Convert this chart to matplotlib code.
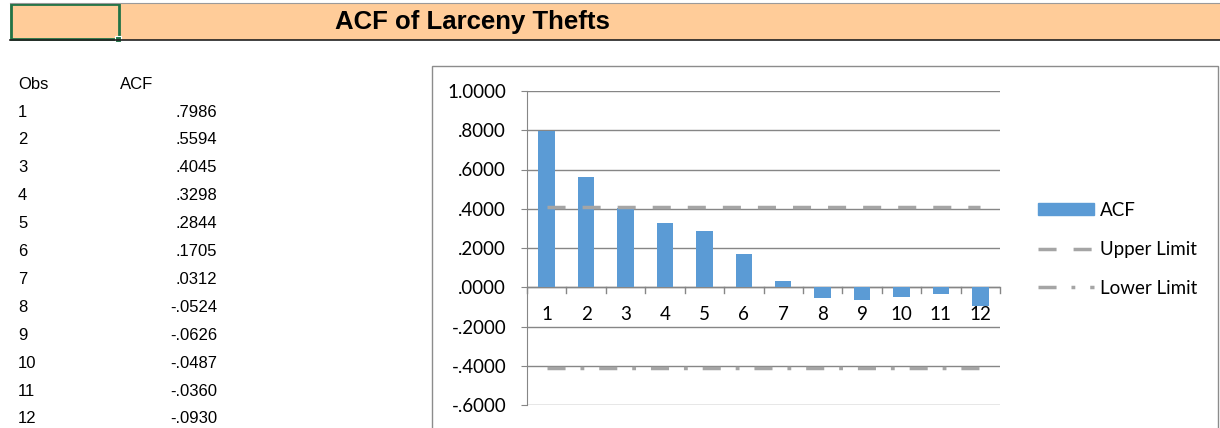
import matplotlib
matplotlib.use('Agg')
import matplotlib.pyplot as plt
from matplotlib.patches import Rectangle
from matplotlib.lines import Line2D
import numpy as np

# data
lags = list(range(1, 13))
acf = [0.7986, 0.5594, 0.4045, 0.3298, 0.2844, 0.1705,
       0.0312, -0.0524, -0.0626, -0.0487, -0.0360, -0.0930]
upper_limit = [0.41] * 12
lower_limit = [-0.41] * 12
yticks = [-0.6, -0.4, -0.2, 0.0, 0.2, 0.4, 0.6, 0.8, 1.0]

W, H = 1220, 428
BAR = '#5B9BD5'
LIM = '#A5A5A5'
GRID = '#868686'
CFONT = 'Lato'
CSIZE = 13.5
UP_DASH = (5.2, 4.9)
LO_DASH = (5.2, 4.3, 1.1, 4.3)

def fmt(v):
    s = '%.4f' % v
    return s.replace('0.', '.', 1) if abs(v) < 1 else s

fig = plt.figure(figsize=(W / 100, H / 100), dpi=100)
fig.patch.set_facecolor('white')

# background sheet in pixel coords (y down)
bg = fig.add_axes([0, 0, 1, 1])
bg.set_xlim(0, W)
bg.set_ylim(H, 0)
bg.axis('off')

# header band
bg.add_patch(Rectangle((10, 3), W - 10, 37, facecolor='#FFCC99', edgecolor='none'))
bg.plot([10, W], [3, 3], color='#9a9a9a', lw=0.8)
bg.plot([10, W], [40, 40], color='#202020', lw=1.2)
bg.add_patch(Rectangle((11, 4), 108, 35, facecolor='none', edgecolor='#217346', lw=2))
bg.add_patch(Rectangle((115, 36), 6, 6, facecolor='#217346', edgecolor='white', lw=0.8))
bg.text(472, 22, 'ACF of Larceny Thefts', ha='center', va='center',
        fontsize=18.5, fontweight='bold', family='Liberation Sans')

# table
bg.text(18, 84, 'Obs', ha='left', va='center', fontsize=12, family='Liberation Sans')
bg.text(120, 84, 'ACF', ha='left', va='center', fontsize=12, family='Liberation Sans')
for i, (n, v) in enumerate(zip(lags, acf)):
    y = 112 + i * 27.9
    bg.text(18, y, str(n), ha='left', va='center', fontsize=12, family='Liberation Sans')
    bg.text(217, y, fmt(v), ha='right', va='center', fontsize=12, family='Liberation Sans')

# chart frame
bg.add_patch(Rectangle((432, 66), 786, 400, facecolor='white', edgecolor='#8c8c8c', lw=1))

# plot area
ax = fig.add_axes([527 / W, (H - 405) / H, 473 / W, 314 / H])
ax.set_facecolor('white')
x = np.arange(len(lags))
ax.bar(x, acf, width=0.42, color=BAR, zorder=3, label='ACF')
ax.plot(x, upper_limit, color=LIM, lw=2.5, dashes=UP_DASH, zorder=4, label='Upper Limit')
ax.plot(x, lower_limit, color=LIM, lw=2.5, dashes=LO_DASH, zorder=4, label='Lower Limit')
ax.set_xlim(-0.5, len(lags) - 0.5)
ax.set_ylim(-0.6, 1.0)
ax.set_yticks(yticks)
ax.set_yticklabels([fmt(v) for v in yticks], fontsize=CSIZE, family=CFONT)
ax.yaxis.grid(True, color=GRID, lw=1)
ax.set_axisbelow(True)
for s in ['top', 'right', 'bottom']:
    ax.spines[s].set_visible(False)
ax.spines['left'].set_color(GRID)
ax.tick_params(axis='y', length=4.5, color=GRID, pad=10.5)

# category axis at zero
ax.axhline(0, color=GRID, lw=1, zorder=2)
ax.set_xticks([])
for b in np.arange(-0.5, len(lags), 1):
    ax.plot([b, b], [0, -0.03], color=GRID, lw=1, clip_on=False)
for xi, n in zip(x, lags):
    ax.text(xi, -0.14, str(n), ha='center', va='center', fontsize=CSIZE, family=CFONT)

# legend
leg_h = [Rectangle((0, 0), 1, 1, color=BAR),
         Line2D([0], [0], color=LIM, lw=2.5, dashes=UP_DASH),
         Line2D([0], [0], color=LIM, lw=2.5, dashes=LO_DASH)]
leg = fig.legend(leg_h, ['ACF', 'Upper Limit', 'Lower Limit'],
                 loc='upper left', bbox_to_anchor=(1021 / W, 1 - 185 / H),
                 frameon=False, prop={'family': CFONT, 'size': CSIZE},
                 handlelength=3.0, handleheight=0.6, labelspacing=1.17, handletextpad=0.3)

fig.savefig('out.png', dpi=100)
